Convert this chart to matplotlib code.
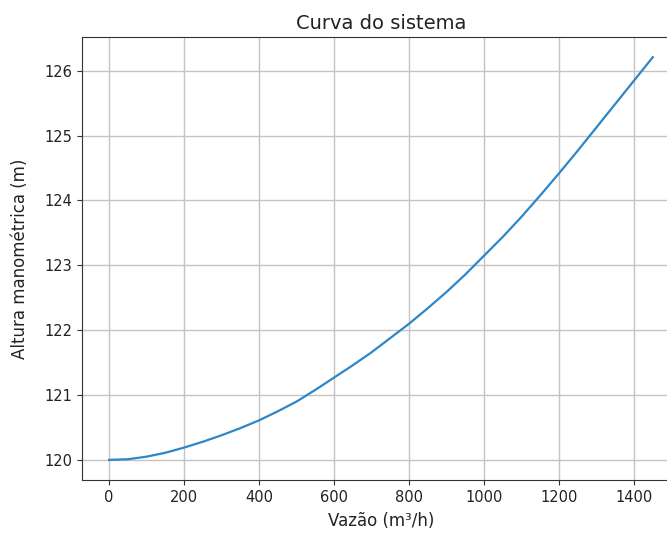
import matplotlib
matplotlib.use("Agg")
import matplotlib.pyplot as plt

vazao = [0, 50, 100, 150, 200, 250, 300, 350, 400, 450, 500, 550, 600, 650, 700,
         750, 800, 850, 900, 950, 1000, 1050, 1100, 1150, 1200, 1250, 1300, 1350,
         1400, 1450]
altura = [120.00, 120.01, 120.05, 120.11, 120.19, 120.28, 120.38, 120.49, 120.61,
          120.75, 120.90, 121.08, 121.27, 121.46, 121.66, 121.88, 122.10, 122.34,
          122.59, 122.86, 123.15, 123.44, 123.75, 124.08, 124.42, 124.77, 125.13,
          125.49, 125.85, 126.21]
xticks = [0, 200, 400, 600, 800, 1000, 1200, 1400]
yticks = [120, 121, 122, 123, 124, 125, 126]

fig = plt.figure(figsize=(6.67, 5.33), dpi=100)
ax = fig.add_axes([0.1229, 0.0994, 0.8966, 0.8311])
ax.plot(vazao, altura, color="#2f86c6", linewidth=1.6)
ax.set_xticks(xticks)
ax.set_yticks(yticks)
ax.grid(True, color="#c4c4c4", linewidth=1.0)
ax.set_axisbelow(True)
for s in ax.spines.values():
    s.set_color("#333333")
ax.tick_params(labelsize=10.5, colors="#333333", labelcolor="#222222")
ax.set_title("Curva do sistema", fontsize=14, color="#222222")
ax.set_xlabel("Vazão (m³/h)", fontsize=12, color="#222222", labelpad=5)
ax.set_ylabel("Altura manométrica (m)", fontsize=12, color="#222222", labelpad=11)
fig.savefig("out.png", dpi=100)
